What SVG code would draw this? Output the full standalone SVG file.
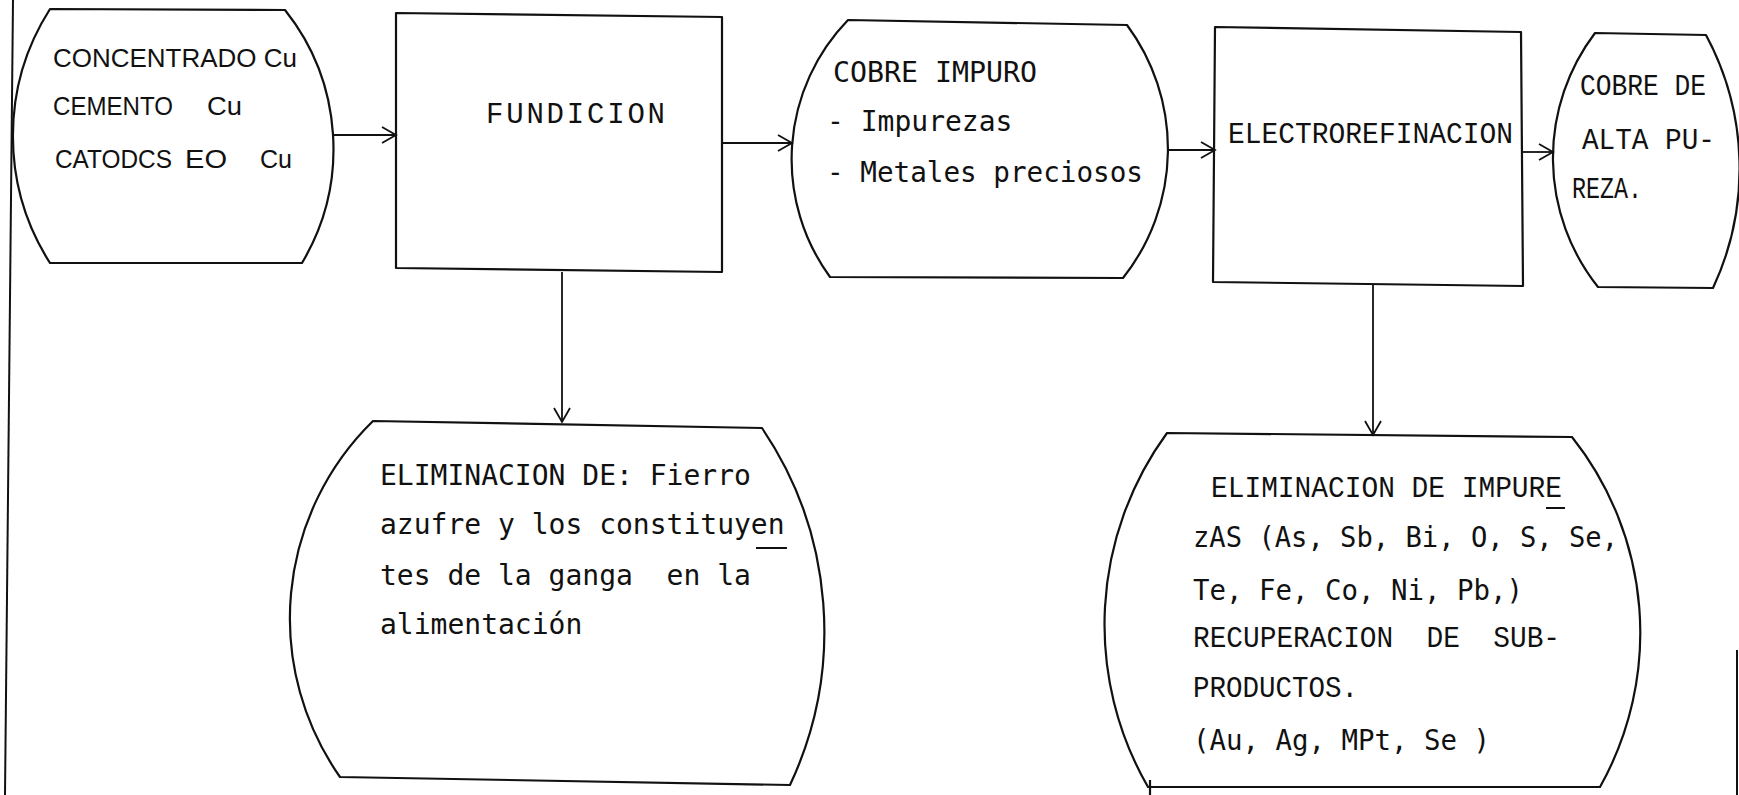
<svg xmlns="http://www.w3.org/2000/svg" width="1739" height="795" viewBox="0 0 1739 795">
<style>
.shape{fill:none;stroke:#111;stroke-width:2.2;stroke-linejoin:round}
.conn{fill:none;stroke:#111;stroke-width:1.8}
.page{fill:none;stroke:#111;stroke-width:2}
.mono{font-family:"DejaVu Sans Mono","Liberation Mono",monospace;font-size:28px;fill:#111}
.cour{font-family:"Liberation Mono","Courier New",monospace;font-size:29px;fill:#111}
.sans{font-family:"Liberation Sans",Arial,sans-serif;font-size:25px;fill:#111}
.ul{stroke:#111;stroke-width:2}
</style>
<defs>
<marker id="arr" markerUnits="userSpaceOnUse" markerWidth="18" markerHeight="20" refX="15" refY="9" orient="auto">
<path d="M1,1 L15,9 L1,17" fill="none" stroke="#111" stroke-width="1.8"/>
</marker>
</defs>
<rect x="0" y="0" width="1739" height="795" fill="#fff"/>
<g id="page-edges">
<line class="page" x1="13" y1="0" x2="5" y2="795"/>
<line class="page" x1="1737" y1="650" x2="1737" y2="795"/>
</g>
<g id="connectors">
<line class="conn" x1="333" y1="135" x2="396" y2="135" marker-end="url(#arr)"/>
<line class="conn" x1="722" y1="143" x2="792" y2="143" marker-end="url(#arr)"/>
<line class="conn" x1="562" y1="272" x2="562" y2="422" marker-end="url(#arr)"/>
<line class="conn" x1="1168" y1="150" x2="1215" y2="150" marker-end="url(#arr)"/>
<line class="conn" x1="1521" y1="152" x2="1553" y2="152" marker-end="url(#arr)"/>
<line class="conn" x1="1373" y1="285" x2="1373" y2="435" marker-end="url(#arr)"/>
</g>
<g id="node-concentrado">
<path class="shape" d="M50,9 L285,10 A223,223 0 0 1 302,263 L50,263 A236,236 0 0 1 50,9 Z"/>
<text class="sans" x="53" y="67" textLength="244" lengthAdjust="spacingAndGlyphs">CONCENTRADO Cu</text>
<text class="sans" x="53" y="115" textLength="120" lengthAdjust="spacingAndGlyphs">CEMENTO</text>
<text class="sans" x="207" y="115" textLength="35" lengthAdjust="spacingAndGlyphs">Cu</text>
<text class="sans" x="55" y="168" textLength="117" lengthAdjust="spacingAndGlyphs">CATODCS</text>
<text class="sans" x="185" y="168" textLength="42" lengthAdjust="spacingAndGlyphs">EO</text>
<text class="sans" x="260" y="168" textLength="32" lengthAdjust="spacingAndGlyphs">Cu</text>
</g>
<g id="node-fundicion">
<polygon class="shape" points="396,13 722,17 722,272 396,268"/>
<text class="cour" x="486" y="123" textLength="179" lengthAdjust="spacing">FUNDICION</text>
</g>
<g id="node-cobre-impuro">
<path class="shape" d="M848,20 L1127,25 A208,208 0 0 1 1123,278 L830,277 A200,200 0 0 1 848,20 Z"/>
<text class="mono" x="833" y="82" textLength="204" lengthAdjust="spacingAndGlyphs">COBRE IMPURO</text>
<text class="mono" x="827" y="131">- Impurezas</text>
<text class="mono" x="827" y="182" textLength="316" lengthAdjust="spacingAndGlyphs">- Metales preciosos</text>
</g>
<g id="node-electrorefinacion">
<polygon class="shape" points="1215,27 1521,32 1523,286 1213,282"/>
<text class="cour" x="1228" y="143" textLength="285" lengthAdjust="spacingAndGlyphs">ELECTROREFINACION</text>
</g>
<g id="node-cobre-alta">
<path class="shape" d="M1595,33 L1706,35 A282,282 0 0 1 1713,288 L1598,287 A207,207 0 0 1 1595,33 Z"/>
<text class="cour" x="1580" y="95" textLength="126" lengthAdjust="spacingAndGlyphs">COBRE DE</text>
<text class="cour" x="1582" y="149" textLength="133" lengthAdjust="spacingAndGlyphs">ALTA PU-</text>
<text class="cour" x="1572" y="198" textLength="70" lengthAdjust="spacingAndGlyphs">REZA.</text>
</g>
<g id="node-eliminacion-fundicion">
<path class="shape" d="M373,421 L762,428 A362,362 0 0 1 790,785 L340,777 A276,276 0 0 1 373,421 Z"/>
<text class="mono" x="380" y="485">ELIMINACION DE: Fierro</text>
<text class="mono" x="380" y="534">azufre y los constituyen</text>
<line class="ul" x1="756" y1="548" x2="787" y2="548"/>
<text class="mono" x="380" y="585" xml:space="preserve">tes de la ganga  en la</text>
<text class="mono" x="380" y="634">alimentación</text>
</g>
<g id="node-eliminacion-impurezas">
<path class="shape" d="M1167,433 L1572,437 A315,315 0 0 1 1600,787 L1148,787 A325,325 0 0 1 1167,433 Z"/>
<line class="shape" x1="1150" y1="780" x2="1150" y2="795"/>
<text class="cour" x="1211" y="497" textLength="351" lengthAdjust="spacingAndGlyphs">ELIMINACION DE IMPURE</text>
<line class="ul" x1="1546" y1="508" x2="1565" y2="508"/>
<text class="mono" x="1193" y="547" textLength="425" lengthAdjust="spacingAndGlyphs">zAS (As, Sb, Bi, O, S, Se,</text>
<text class="mono" x="1193" y="600" textLength="330" lengthAdjust="spacingAndGlyphs">Te, Fe, Co, Ni, Pb,)</text>
<text class="cour" x="1193" y="647" textLength="367" lengthAdjust="spacingAndGlyphs" xml:space="preserve">RECUPERACION  DE  SUB-</text>
<text class="cour" x="1193" y="697" textLength="165" lengthAdjust="spacingAndGlyphs">PRODUCTOS.</text>
<text class="mono" x="1193" y="750" textLength="297" lengthAdjust="spacingAndGlyphs">(Au, Ag, MPt, Se )</text>
</g>
</svg>
